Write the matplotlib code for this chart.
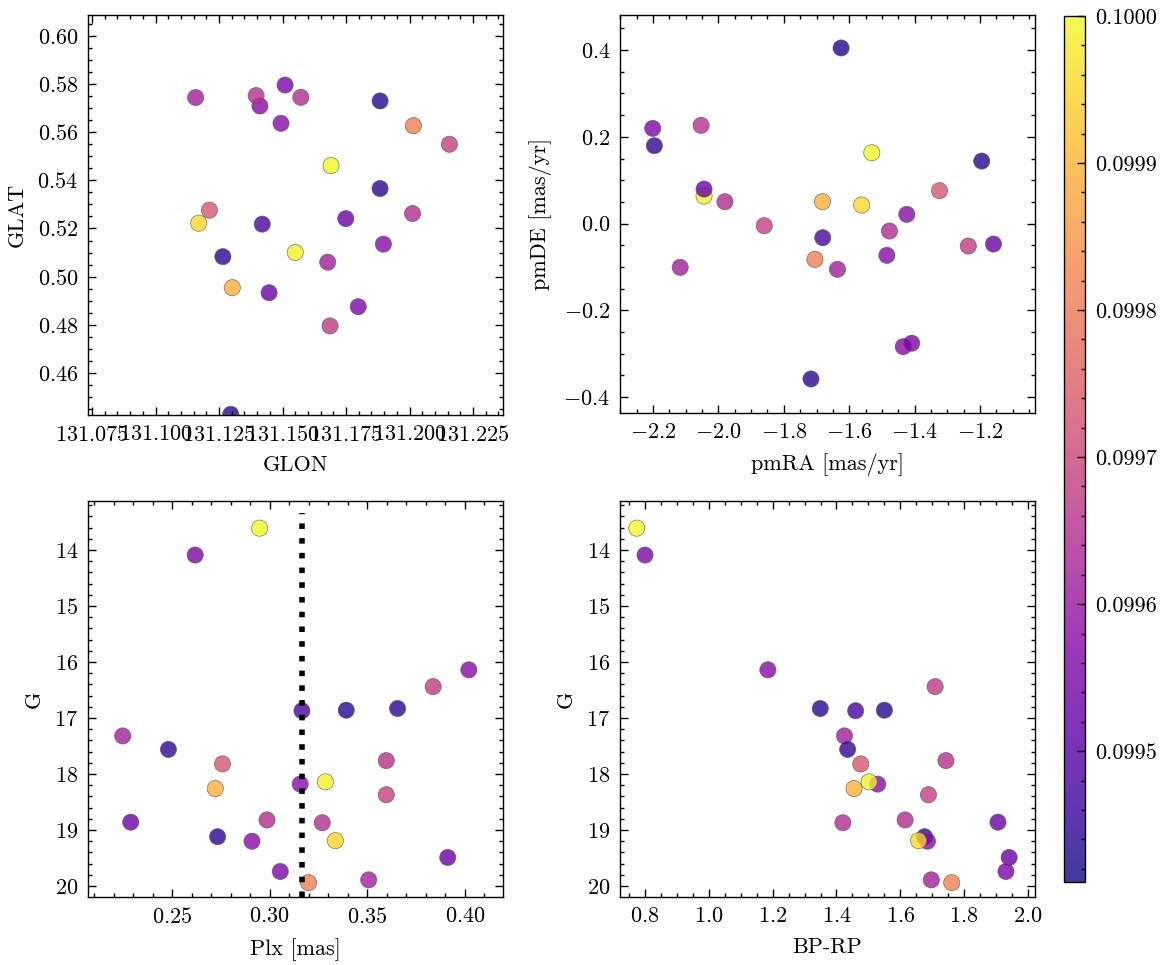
import numpy as np
import matplotlib
matplotlib.use('Agg')
import matplotlib.pyplot as plt
from matplotlib.ticker import FormatStrFormatter, MultipleLocator

plt.rcParams.update({
    'font.family': ['cmr10'],
    'mathtext.fontset': 'cm',
    'axes.formatter.use_mathtext': True,
    'font.size': 8,
    'axes.linewidth': 0.5,
    'xtick.direction': 'in', 'ytick.direction': 'in',
    'xtick.top': True, 'ytick.right': True,
    'xtick.minor.visible': True, 'ytick.minor.visible': True,
    'xtick.major.size': 3, 'ytick.major.size': 3,
    'xtick.minor.size': 1.5, 'ytick.minor.size': 1.5,
    'xtick.major.width': 0.5, 'ytick.major.width': 0.5,
    'xtick.minor.width': 0.5, 'ytick.minor.width': 0.5,
})

# members of the cluster
glon = [131.1691, 131.1510, 131.1411, 131.1687, 131.1420, 131.1884, 131.1884, 131.1158,
        131.1265, 131.1212, 131.1396, 131.1494, 131.1550, 131.1302, 131.2157, 131.1749,
        131.1572, 131.2012, 131.1296, 131.1897, 131.1170, 131.1447, 131.1798, 131.2015,
        131.1678]
glat = [0.5461, 0.5796, 0.5709, 0.4795, 0.5218, 0.5730, 0.5366, 0.5744,
        0.5083, 0.5276, 0.5752, 0.5637, 0.5100, 0.4954, 0.5550, 0.5241,
        0.5745, 0.5262, 0.4428, 0.5135, 0.5222, 0.4933, 0.4875, 0.5627,
        0.5060]
pmra = [-1.531, -2.201, -1.424, -1.236, -1.681, -1.625, -1.195, -1.636,
        -2.196, -1.324, -2.053, -1.435, -2.044, -1.682, -1.860, -2.044,
        -1.980, -1.477, -1.717, -1.485, -1.562, -1.159, -1.409, -1.705,
        -2.117]
pmde = [0.1633, 0.2195, 0.0212, -0.0519, -0.0327, 0.4050, 0.1441, -0.1056,
        0.1795, 0.0757, 0.2264, -0.2840, 0.0634, 0.0503, -0.0050, 0.0795,
        0.0503, -0.0173, -0.3585, -0.0733, 0.0427, -0.0473, -0.2760, -0.0826,
        -0.1010]
plx = [0.2948, 0.2618, 0.4020, 0.3837, 0.3165, 0.3392, 0.3655, 0.2247,
       0.2481, 0.2758, 0.3597, 0.3156, 0.3285, 0.2721, 0.3597, 0.2288,
       0.2986, 0.3269, 0.2733, 0.2909, 0.3336, 0.3912, 0.3054, 0.3199,
       0.3507]
gmag = [13.61, 14.09, 16.14, 16.44, 16.87, 16.86, 16.83, 17.32,
        17.56, 17.82, 17.76, 18.18, 18.14, 18.26, 18.37, 18.86,
        18.82, 18.87, 19.12, 19.20, 19.19, 19.49, 19.74, 19.94,
        19.89]
bprp = [0.774, 0.800, 1.185, 1.709, 1.460, 1.550, 1.349, 1.425,
        1.435, 1.476, 1.743, 1.529, 1.502, 1.455, 1.688, 1.906,
        1.615, 1.420, 1.676, 1.685, 1.657, 1.941, 1.931, 1.761,
        1.697]
prob = [0.100000, 0.099558, 0.099576, 0.099676, 0.099482, 0.099435, 0.099440, 0.099617,
        0.099446, 0.099735, 0.099658, 0.099576, 0.099988, 0.099894, 0.099688, 0.099529,
        0.099647, 0.099647, 0.099440, 0.099576, 0.099953, 0.099529, 0.099558, 0.099812,
        0.099617]
plx_ref = 0.3164
vmin, vmax = 0.099411, 0.1

W, H = 1166, 965
fig = plt.figure(figsize=(W / 200, H / 200), dpi=200)


def px_axes(l, r, t, b):
    return fig.add_axes([l / W, 1 - b / H, (r - l) / W, (b - t) / H])


sc_kw = dict(c=prob, cmap='plasma', vmin=vmin, vmax=vmax, s=34, alpha=0.8,
             edgecolors='0.35', linewidths=0.25)

ax1 = px_axes(88, 503, 15, 415)
sc = ax1.scatter(glon, glat, **sc_kw)
ax1.set_xlim(131.0734, 131.2368)
ax1.set_ylim(0.4425, 0.6087)
ax1.xaxis.set_major_locator(MultipleLocator(0.025))
ax1.ticklabel_format(axis='x', useOffset=False)
ax1.set_xlabel('GLON')
ax1.set_ylabel('GLAT')

ax2 = px_axes(620, 1035, 15, 413)
ax2.scatter(pmra, pmde, **sc_kw)
ax2.set_xlim(-2.301, -1.032)
ax2.set_ylim(-0.437, 0.481)
ax2.xaxis.set_major_locator(MultipleLocator(0.2))
ax2.set_xlabel('pmRA [mas/yr]')
ax2.set_ylabel('pmDE [mas/yr]')

ax3 = px_axes(88, 503, 501, 897)
ax3.scatter(plx, gmag, **sc_kw)
ax3.axvline(plx_ref, ymax=0.97, color='k', ls=':', lw=2)
ax3.set_xlim(0.2069, 0.4195)
ax3.set_ylim(20.196, 13.125)
ax3.set_xlabel('Plx [mas]')
ax3.set_ylabel('G')

ax4 = px_axes(620, 1035, 501, 897)
ax4.scatter(bprp, gmag, **sc_kw)
ax4.set_xlim(0.7216, 2.022)
ax4.set_ylim(20.196, 13.125)
ax4.xaxis.set_major_locator(MultipleLocator(0.2))
ax4.set_xlabel('BP-RP')
ax4.set_ylabel('G')

cax = px_axes(1064, 1085, 16, 882)
cb = fig.colorbar(sc, cax=cax)
cb.solids.set_alpha(0.8)
cb.outline.set_linewidth(0.5)
cb.set_ticks([0.0995, 0.0996, 0.0997, 0.0998, 0.0999, 0.1000])
cb.ax.yaxis.set_major_formatter(FormatStrFormatter('%.4f'))
cb.ax.minorticks_on()

fig.savefig('out.png', dpi=200)
